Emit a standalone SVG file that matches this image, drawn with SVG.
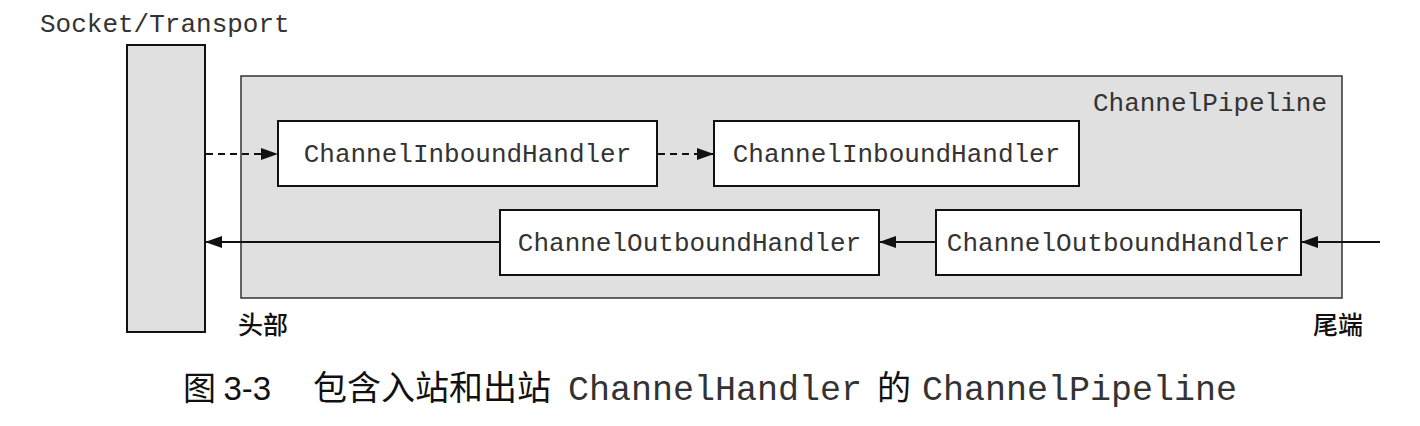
<svg xmlns="http://www.w3.org/2000/svg" width="1420" height="426" viewBox="0 0 1420 426">
<style>
.mono{font-family:"Liberation Mono","Courier New",monospace;font-size:26px;fill:#333}
.cjk{font-family:"Noto Sans CJK SC",sans-serif;fill:#111}
.box{fill:#fff;stroke:#111;stroke-width:2}
.conn{stroke:#111;stroke-width:2;fill:none}
.dash{stroke-dasharray:7,5}
</style>
<defs>
<marker id="ah" markerWidth="17" markerHeight="12" refX="16" refY="6" orient="auto" markerUnits="userSpaceOnUse">
<path d="M0,0 L17,6 L0,12 Z" fill="#111"/>
</marker>
</defs>
<rect width="1420" height="426" fill="#fff"/>
<g id="socket">
<rect x="127" y="45" width="78" height="287" fill="#e0e0e0" stroke="#111" stroke-width="2"/>
<text class="mono" x="40" y="32">Socket/Transport</text>
</g>
<g id="pipeline">
<rect x="241" y="76" width="1101" height="222" fill="#e0e0e0" stroke="#333" stroke-width="1.5"/>
<text class="mono" x="1327" y="111" text-anchor="end">ChannelPipeline</text>
</g>
<g id="in1">
<rect class="box" x="278" y="121" width="379" height="65"/>
<text class="mono" x="467.5" y="162" text-anchor="middle">ChannelInboundHandler</text>
</g>
<g id="in2">
<rect class="box" x="714" y="121" width="365" height="65"/>
<text class="mono" x="896.5" y="162" text-anchor="middle">ChannelInboundHandler</text>
</g>
<g id="out1">
<rect class="box" x="500" y="210" width="379" height="65"/>
<text class="mono" x="689.5" y="251" text-anchor="middle">ChannelOutboundHandler</text>
</g>
<g id="out2">
<rect class="box" x="936" y="210" width="365" height="65"/>
<text class="mono" x="1118.5" y="251" text-anchor="middle">ChannelOutboundHandler</text>
</g>
<g id="connectors">
<line class="conn dash" x1="206" y1="154" x2="277" y2="154" marker-end="url(#ah)"/>
<line class="conn dash" x1="658" y1="154" x2="713" y2="154" marker-end="url(#ah)"/>
<line class="conn" x1="1380" y1="242" x2="1302" y2="242" marker-end="url(#ah)"/>
<line class="conn" x1="936" y1="242" x2="880" y2="242" marker-end="url(#ah)"/>
<line class="conn" x1="500" y1="242" x2="206" y2="242" marker-end="url(#ah)"/>
</g>
<g id="labels">
<text class="cjk" x="238" y="334" font-size="25" font-weight="500">头部</text>
<text class="cjk" x="1313" y="334" font-size="25" font-weight="500">尾端</text>
</g>
<g id="caption">
<text x="183" y="400" font-size="33" class="cjk">图 <tspan font-family="Liberation Sans,Arial,sans-serif">3-3</tspan></text>
<text class="cjk" x="313" y="400" font-size="34">包含入站和出站</text>
<text class="mono" x="568" y="400" style="font-size:35px">ChannelHandler</text>
<text class="cjk" x="877" y="400" font-size="34">的</text>
<text class="mono" x="922" y="400" style="font-size:35px">ChannelPipeline</text>
</g>
</svg>
